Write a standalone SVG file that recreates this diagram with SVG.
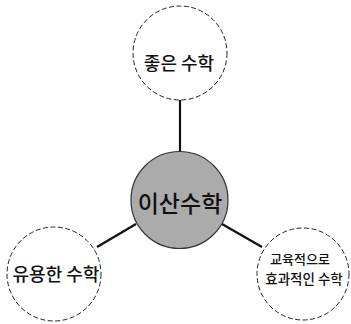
<svg xmlns="http://www.w3.org/2000/svg" width="351" height="324" viewBox="0 0 351 324">
<style>
.dash{fill:#fff;stroke:#222;stroke-width:1;stroke-dasharray:5 2.5}
.hub{fill:#ababab;stroke:#333;stroke-width:1.2}
.t{font-family:"Noto Sans CJK KR","Noto Sans CJK SC",sans-serif;font-weight:500;fill:#111;text-anchor:middle;dominant-baseline:central}
.conn line{stroke:#111;stroke-width:2.2}
</style>
<rect width="351" height="324" fill="#fff"/>
<g id="connectors" class="conn">
<line x1="180" y1="100" x2="180" y2="152"/>
<line x1="97" y1="247" x2="136" y2="224"/>
<line x1="222" y1="224" x2="262" y2="247"/>
</g>
<g id="node-top">
<circle class="dash" cx="180" cy="53" r="47"/>
<text class="t" x="179" y="62" font-size="18">좋은 수학</text>
</g>
<g id="node-center">
<circle class="hub" cx="179.5" cy="200" r="48.5"/>
<text class="t" x="180" y="202" font-size="23">이산수학</text>
</g>
<g id="node-left">
<circle class="dash" cx="54" cy="274" r="47"/>
<text class="t" x="56" y="273" font-size="18">유용한 수학</text>
</g>
<g id="node-right">
<circle class="dash" cx="303" cy="274" r="46"/>
<text class="t" x="300" y="258" font-size="13">교육적으로</text>
<text class="t" x="304" y="278" font-size="13.5">효과적인 수학</text>
</g>
</svg>
